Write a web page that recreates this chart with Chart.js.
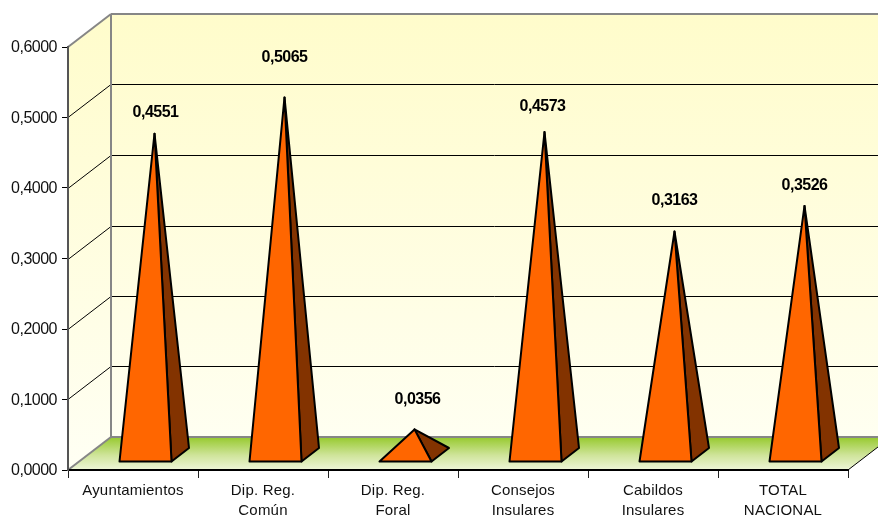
<!DOCTYPE html>
<html>
<head>
<meta charset="utf-8">
<style>
  html, body { margin: 0; padding: 0; background: #fff; }
  canvas { display: block; }
</style>
<script src="https://cdn.jsdelivr.net/npm/chart.js@4/dist/chart.umd.min.js"></script>
</head>
<body>
<canvas id="myChart" width="878" height="515"></canvas>
<script>
const categories = [
  'Ayuntamientos',
  ['Dip. Reg.', 'Común'],
  ['Dip. Reg.', 'Foral'],
  ['Consejos', 'Insulares'],
  ['Cabildos', 'Insulares'],
  ['TOTAL', 'NACIONAL']
];
const values = [0.4551, 0.5065, 0.0356, 0.4573, 0.3163, 0.3526];
const yTicks = [0, 0.1, 0.2, 0.3, 0.4, 0.5, 0.6];

const depthX = 43;
const depthY = 33;

function commaNumber(v) {
  return v.toFixed(4).replace('.', ',');
}

function line(ctx, x1, y1, x2, y2) {
  ctx.beginPath();
  ctx.moveTo(x1, y1);
  ctx.lineTo(x2, y2);
  ctx.stroke();
}

// back wall, side wall and floor behind the bars
const walls = {
  id: 'walls',
  beforeDraw(chart) {
    const ctx = chart.ctx;
    const { left, right, top, bottom } = chart.chartArea;
    const y = chart.scales.y;
    ctx.save();

    const wall = ctx.createLinearGradient(0, top - depthY, 0, bottom);
    wall.addColorStop(0, '#fffccb');
    wall.addColorStop(1, '#fffff4');
    ctx.fillStyle = wall;
    ctx.fillRect(left + depthX, top - depthY, chart.width, bottom - top);

    ctx.beginPath();
    ctx.moveTo(left, top);
    ctx.lineTo(left + depthX, top - depthY);
    ctx.lineTo(left + depthX, bottom - depthY);
    ctx.lineTo(left, bottom);
    ctx.closePath();
    ctx.fill();

    const floor = ctx.createLinearGradient(0, bottom - depthY, 0, bottom);
    floor.addColorStop(0, '#96c92d');
    floor.addColorStop(0.55, '#cfe49a');
    floor.addColorStop(1, '#eef6d8');
    ctx.fillStyle = floor;
    ctx.beginPath();
    ctx.moveTo(left, bottom);
    ctx.lineTo(right, bottom);
    ctx.lineTo(right + depthX, bottom - depthY);
    ctx.lineTo(left + depthX, bottom - depthY);
    ctx.closePath();
    ctx.fill();

    // grid lines follow the y scale
    ctx.strokeStyle = '#000';
    ctx.lineWidth = 1;
    yTicks.slice(1, -1).forEach((t) => {
      const py = Math.round(y.getPixelForValue(t)) + 0.5;
      line(ctx, left, py, left + depthX, py - depthY);
      line(ctx, left + depthX, py - depthY, chart.width, py - depthY);
    });
    line(ctx, right, bottom, right + depthX, bottom - depthY);

    ctx.strokeStyle = '#868686';
    ctx.lineWidth = 2;
    line(ctx, left, top, left + depthX, top - depthY);
    line(ctx, left + depthX, top - depthY, chart.width, top - depthY);
    line(ctx, left + depthX, top - depthY, left + depthX, bottom - depthY);
    line(ctx, left + depthX, bottom - depthY, chart.width, bottom - depthY);
    line(ctx, left, bottom, left + depthX, bottom - depthY);
    ctx.restore();

    // y tick labels are drawn next, a bit squeezed like the original
    ctx.letterSpacing = '-0.5px';
  }
};

// pyramids sit on the bar elements so heights come from the y scale
const pyramids = {
  id: 'pyramids',
  afterDatasetsDraw(chart, args, opts) {
    const ctx = chart.ctx;
    const baseY = chart.chartArea.bottom - 8.5;
    const bars = chart.getDatasetMeta(0).data;
    ctx.save();
    ctx.lineJoin = 'round';
    ctx.strokeStyle = '#000';
    ctx.lineWidth = 2;
    bars.forEach((bar, i) => {
      const x0 = bar.x - 13.5;
      const x1 = x0 + 52;
      const apexX = bar.x + 21.5;
      const apexY = bar.y - 15.5;

      ctx.fillStyle = '#833300';
      ctx.beginPath();
      ctx.moveTo(x1, baseY);
      ctx.lineTo(x1 + 17.5, baseY - 13.5);
      ctx.lineTo(apexX, apexY);
      ctx.closePath();
      ctx.fill();
      ctx.stroke();

      ctx.fillStyle = '#ff6600';
      ctx.beginPath();
      ctx.moveTo(x0, baseY);
      ctx.lineTo(x1, baseY);
      ctx.lineTo(apexX, apexY);
      ctx.closePath();
      ctx.fill();
      ctx.stroke();

      ctx.fillStyle = '#000';
      ctx.font = 'bold 16px "Liberation Sans"';
      ctx.textAlign = 'center';
      ctx.textBaseline = 'middle';
      ctx.fillText(commaNumber(values[i]), apexX + opts.labelShift[i], apexY - opts.labelLift[i]);
    });
    ctx.restore();

    // x labels come after the datasets
    ctx.letterSpacing = '0.2px';
  }
};

new Chart(document.getElementById('myChart'), {
  type: 'bar',
  data: {
    labels: categories,
    datasets: [{ data: values, backgroundColor: 'rgba(0,0,0,0)', borderWidth: 0 }]
  },
  plugins: [walls, pyramids],
  options: {
    responsive: false,
    animation: false,
    layout: { padding: { top: 47, right: 30, left: 0, bottom: 0 } },
    plugins: {
      legend: { display: false },
      tooltip: { enabled: false },
      pyramids: {
        labelLift: [21, 40, 30, 26, 31, 20],
        labelShift: [1, 0, 3, -2, 0, 0]
      }
    },
    scales: {
      x: {
        afterFit(scale) { scale.height = 45; },
        border: { color: '#000', width: 2 },
        grid: { display: true, drawOnChartArea: false, color: '#222', tickLength: 8, offset: true },
        ticks: {
          z: 1,
          color: '#111',
          font: { family: '"Liberation Sans"', size: 15, lineHeight: 1.33 },
          maxRotation: 0,
          autoSkip: false,
          padding: 3
        }
      },
      y: {
        min: 0,
        max: 0.6,
        afterFit(scale) { scale.width = 68; },
        afterBuildTicks(scale) { scale.ticks = yTicks.map((v) => ({ value: v })); },
        border: { color: '#555', width: 2 },
        grid: { display: true, drawOnChartArea: false, color: '#000', tickLength: 6 },
        ticks: {
          color: '#111',
          font: { family: '"Liberation Sans"', size: 16 },
          padding: 5,
          labelOffset: 1,
          callback: (v) => commaNumber(v)
        }
      }
    }
  }
});
</script>
</body>
</html>
